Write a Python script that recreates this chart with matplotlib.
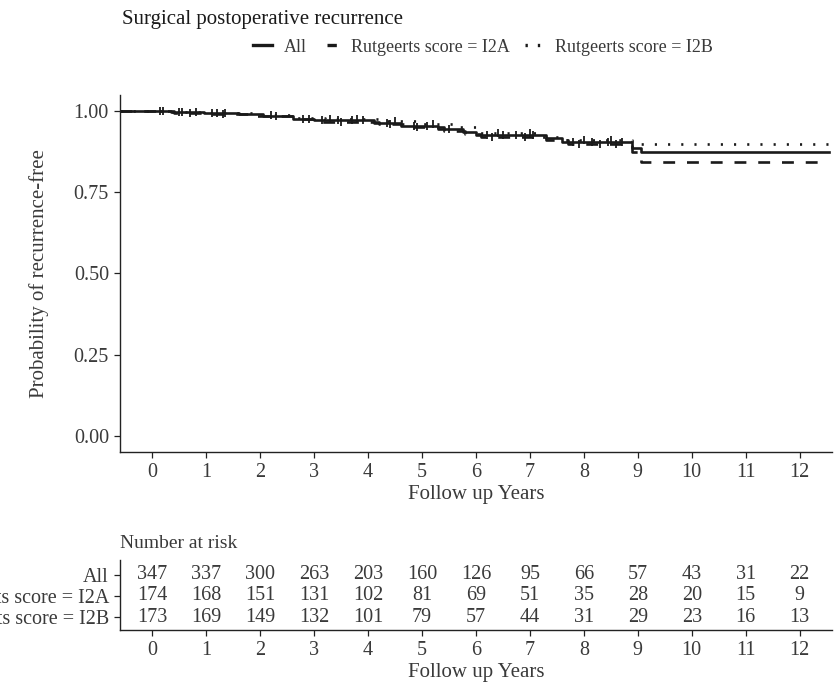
import numpy as np
import matplotlib.pyplot as plt
from matplotlib.lines import Line2D

plt.rcParams["font.family"] = ["Liberation Serif", "DejaVu Serif"]

# Kaplan-Meier step curves (time in years, survival after each step);
# the first time is where the drawn curve begins at the left of the panel
curve_start = -0.6
all_times = [curve_start, 0.35, 0.95, 1.6, 2.05, 2.6, 3.0, 4.1, 4.6, 5.3, 5.75, 6.0, 7.3, 7.6, 8.9, 9.05, 12.55]
all_surv = [1.0, 0.997, 0.994, 0.99, 0.986, 0.977, 0.973, 0.965, 0.955, 0.946, 0.936, 0.928, 0.918, 0.906, 0.888, 0.873, 0.873]

i2a_times = [curve_start, 0.4, 1.1, 1.8, 2.7, 3.1, 4.2, 4.7, 5.4, 5.8, 6.1, 7.3, 7.7, 8.9, 9.05, 12.55]
i2a_surv = [1.0, 0.995, 0.991, 0.986, 0.975, 0.968, 0.96, 0.95, 0.94, 0.93, 0.922, 0.912, 0.9, 0.875, 0.845, 0.845]

i2b_times = [curve_start, 0.3, 1.0, 2.0, 2.6, 3.2, 4.3, 5.0, 5.6, 6.0, 7.2, 7.6, 8.9, 12.55]
i2b_surv = [1.0, 0.998, 0.995, 0.988, 0.98, 0.976, 0.97, 0.962, 0.95, 0.933, 0.922, 0.91, 0.898, 0.898]

# censoring times drawn as tick marks on the curves
all_cens = [0.15, 0.55, 0.8, 1.1, 1.35, 2.3, 2.8, 3.15, 3.45, 3.7, 3.9, 4.35, 4.85, 5.1, 5.5,
            6.2, 6.5, 6.75, 7.05, 7.8, 8.15, 8.45, 8.7]
i2a_cens = [0.2, 0.7, 1.3, 2.9, 3.5, 4.4, 4.9, 6.3, 6.9, 7.9, 8.3, 8.6]
i2b_cens = [0.5, 1.2, 2.2, 3.3, 3.8, 4.5, 5.2, 6.4, 7.0, 8.0, 8.5]

years = list(range(13))
risk_labels = ["All", "Rutgeerts score = I2A", "Rutgeerts score = I2B"]
risk_all = [347, 337, 300, 263, 203, 160, 126, 95, 66, 57, 43, 31, 22]
risk_i2a = [174, 168, 151, 131, 102, 81, 69, 51, 35, 28, 20, 15, 9]
risk_i2b = [173, 169, 149, 132, 101, 79, 57, 44, 31, 29, 23, 16, 13]

TEXT = "#3a3a3a"
LINE = "#1a1a1a"
TICK_SIZE = 14.5
LABEL_SIZE = 15


def surv_at(times, surv, t):
    idx = np.searchsorted(times, t, side="right") - 1
    return np.asarray(surv)[idx]


def style_axis(ax):
    for side in ["top", "right"]:
        ax.spines[side].set_visible(False)
    for side in ["left", "bottom"]:
        ax.spines[side].set_color("#222222")
        ax.spines[side].set_linewidth(1.0)
    ax.tick_params(colors="#222222", labelcolor=TEXT, labelsize=TICK_SIZE,
                   length=4, width=0.9, pad=4)


fig = plt.figure(figsize=(8.4, 6.84), dpi=100)
ax = fig.add_axes([0.1429, 0.3392, 0.8476, 0.5219])

curves = [
    (i2a_times, i2a_surv, i2a_cens, (0, (4.5, 4.5))),
    (i2b_times, i2b_surv, i2b_cens, (0, (0.8, 4.2))),
    (all_times, all_surv, all_cens, "-"),
]
for times, surv, cens, ls in curves:
    ax.step(times, surv, where="post", color=LINE, lw=1.9, linestyle=ls)
    ax.plot(cens, surv_at(times, surv, cens), linestyle="none", marker="|",
            markersize=6, markeredgewidth=1.3, color=LINE)

ax.set_xlim(-0.6, 12.6)
ax.set_ylim(-0.05, 1.05)
ax.set_xticks(years)
ax.set_yticks([0, 0.25, 0.5, 0.75, 1.0])
ax.set_yticklabels(["0.00", "0.25", "0.50", "0.75", "1.00"])
ax.set_xlabel("Follow up Years", fontsize=LABEL_SIZE, color=TEXT, labelpad=2)
ax.set_ylabel("Probability of recurrence-free", fontsize=LABEL_SIZE, color=TEXT, labelpad=18)
style_axis(ax)

fig.text(0.145, 0.972, "Surgical postoperative recurrence", fontsize=15, color="#1a1a1a",
         ha="left", va="center")

handles = [
    Line2D([], [], color=LINE, lw=2.4, linestyle="-"),
    Line2D([], [], color=LINE, lw=2.4, linestyle=(6.0, (2.8, 5))),
    Line2D([], [], color=LINE, lw=2.4, linestyle=(0, (0.7, 3))),
]
fig.legend(handles, ["All", "Rutgeerts score = I2A", "Rutgeerts score = I2B"],
           loc="center", bbox_to_anchor=(0.575, 0.931), ncol=3, frameon=False,
           fontsize=13, handlelength=1.1, handletextpad=0.6, columnspacing=0.8,
           labelcolor=TEXT)

# number-at-risk table
tab = fig.add_axes([0.1429, 0.0789, 0.8476, 0.1023])
rows = [risk_all, risk_i2a, risk_i2b]
ypos = [3, 2, 1]
for y, counts in zip(ypos, rows):
    for x, n in zip(years, counts):
        tab.text(x, y, str(n), ha="center", va="center", fontsize=TICK_SIZE, color=TEXT)
tab.set_xlim(-0.6, 12.6)
tab.set_ylim(0.38, 3.71)
tab.set_xticks(years)
tab.set_yticks(ypos)
tab.set_yticklabels(risk_labels)
tab.set_xlabel("Follow up Years", fontsize=LABEL_SIZE, color=TEXT, labelpad=2)
style_axis(tab)
tab.set_title("Number at risk", loc="left", fontsize=14, color=TEXT, pad=9)

fig.savefig("out.png", dpi=100)
